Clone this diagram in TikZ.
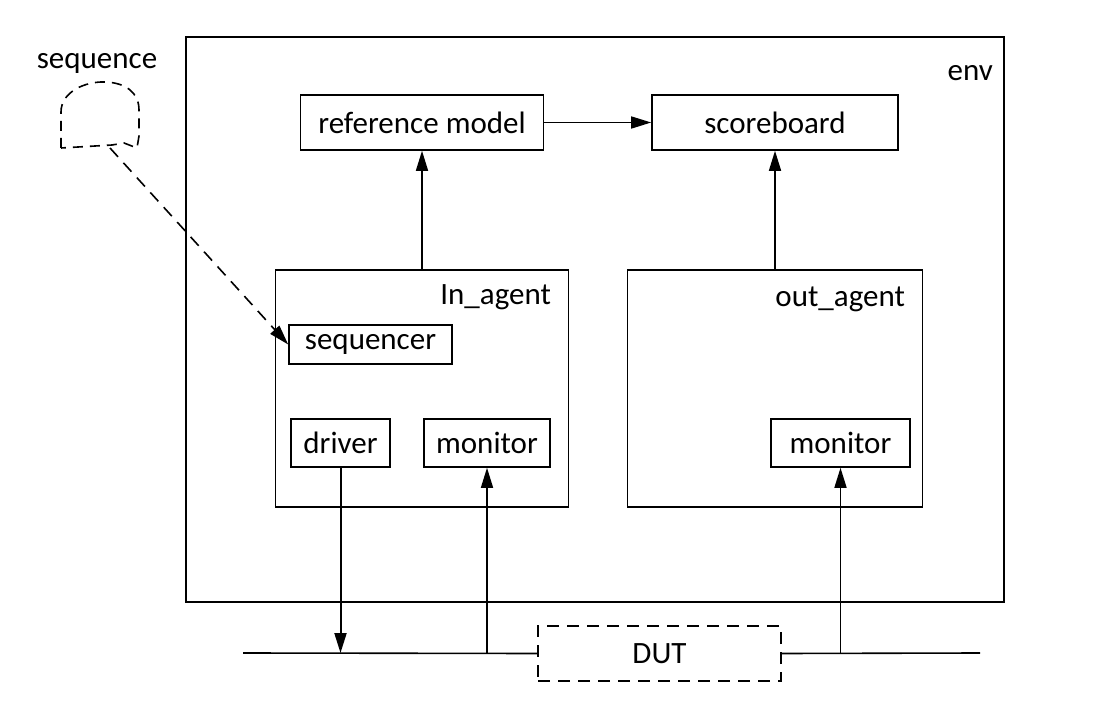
\documentclass[tikz,border=0pt]{standalone}
\usepackage{fontspec}
\setmainfont{Carlito}
\usetikzlibrary{arrows.meta}

\begin{document}
\begin{tikzpicture}[x=0.5pt,y=-0.5pt,
    font=\fontsize{15.5}{18}\selectfont,
    blk/.style={draw,line width=0.8pt,inner sep=0pt},
    dashblk/.style={blk,dash pattern=on 6pt off 4pt},
    conn/.style={line width=0.8pt,-{Triangle[length=10pt,width=6pt]}}]
  \useasboundingbox (0,0) rectangle (1108,721);

  \node[blk,minimum width=409pt,minimum height=282.5pt] (env) at (595,319.5) {};
  \node at (1000,81) [anchor=base east] (envlbl) {env};

  \node[blk,minimum width=121.5pt,minimum height=27.5pt] (refmodel) at (422,122.5) {reference model};
  \node[blk,minimum width=123pt,minimum height=27.5pt] (scoreboard) at (775,122.5) {scoreboard};

  \node[blk,minimum width=146.5pt,minimum height=118.5pt] (inagent) at (422,388.5) {};
  \node at (558,305) [anchor=base east] (inlbl) {In\_agent};
  \node[blk,minimum width=147.5pt,minimum height=118.5pt] (outagent) at (775,388.5) {};
  \node at (912,307) [anchor=base east] (outlbl) {out\_agent};

  \node[blk,minimum width=81.5pt,minimum height=19.5pt] (sequencer) at (370.5,344.5) {sequencer};
  \node[blk,minimum width=49.5pt,minimum height=24pt] (driver) at (340.5,443) {driver};
  \node[blk,minimum width=63pt,minimum height=24pt] (inmon) at (487,443) {monitor};
  \node[blk,minimum width=69.5pt,minimum height=24pt] (outmon) at (840.5,443) {monitor};

  \node[dashblk,minimum width=121.5pt,minimum height=27.5pt] (dut) at (659.5,653.5) {DUT};

  \node at (97,69) [anchor=base] (seqlbl) {sequence};
  \draw[line width=0.8pt,dash pattern=on 5pt off 3.5pt]
    (61,148) -- (61,112) .. controls (61,92) and (85,81) .. (106,82)
    .. controls (125,83) and (139,92) .. (139,110) -- (139,136) -- (137,148)
    -- (124,143) -- (112,145) -- cycle;
  \coordinate (cloudfoot) at (110,148);

  \coordinate (busL) at (243,653);
  \coordinate (busR) at (980,653);
  \coordinate (drvbus) at (340.5,653);
  \coordinate (inbus) at (487,653);
  \coordinate (outbus) at (840.5,653);

  \draw[line width=0.8pt] (busL) -- (dut.west);
  \draw[line width=0.8pt] (dut.east) -- (busR);

  \draw[conn] (refmodel) -- (scoreboard);
  \draw[conn] (inagent.north) -- (refmodel.south);
  \draw[conn] (outagent.north) -- (scoreboard.south);
  \draw[conn,line width=1pt] (driver.south) -- (drvbus);
  \draw[conn] (inbus) -- (inmon.south);
  \draw[conn] (outbus) -- (outmon.south);
  \draw[conn,dash pattern=on 6pt off 4pt] (cloudfoot) -- (sequencer.west);
\end{tikzpicture}
\end{document}
